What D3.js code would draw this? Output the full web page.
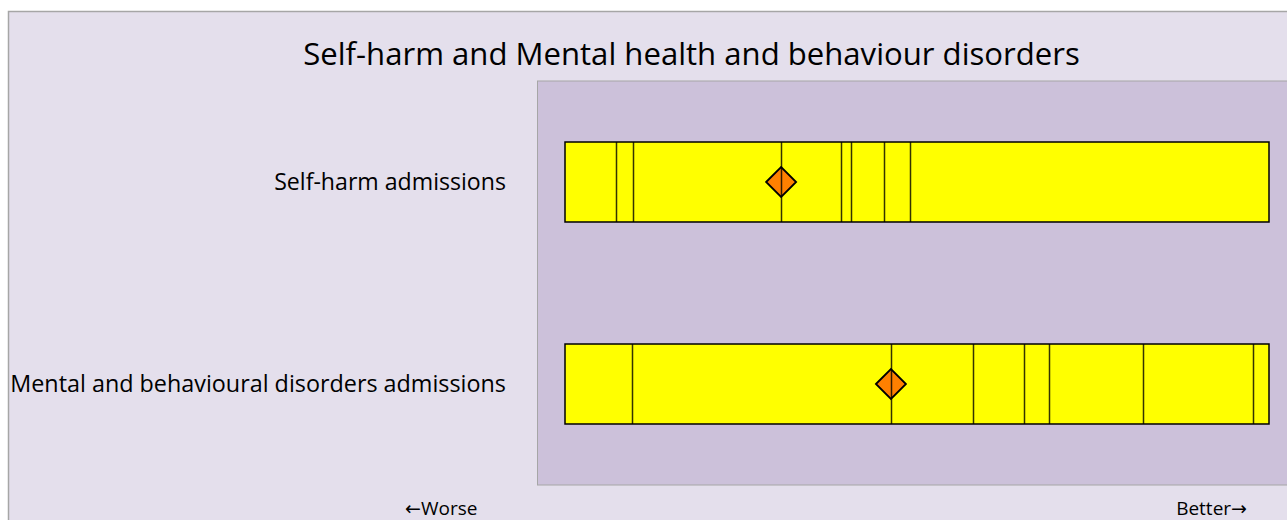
<!DOCTYPE html>
<html>
<head>
<meta charset="utf-8">
<script src="https://cdn.jsdelivr.net/npm/d3@7"></script>
<style>
  body { margin: 0; background: #ffffff; }
  svg { display: block; font-family: "Open Sans", "DejaVu Sans", sans-serif; }
</style>
</head>
<body>
<svg id="chart" width="1287" height="520"></svg>
<script>
// Chart data (x positions on a 0-100 spine scale)
var title = "Self-harm and Mental health and behaviour disorders";
var categories = ["Self-harm admissions", "Mental and behavioural disorders admissions"];
var segmentBreaks = [
  [7.3, 9.6, 30.7, 39.2, 40.6, 45.3, 49.0],
  [9.5, 46.3, 58.0, 65.2, 68.8, 82.1, 97.7]
];
var markerValues = [30.7, 46.3];
var worseLabel = "\u2190Worse";
var betterLabel = "Better\u2192";

var width = 1287, height = 520;
var svg = d3.select("#chart");

// Outer chart area
svg.append("rect")
  .attr("x", 8.5).attr("y", 11.5)
  .attr("width", width + 10).attr("height", height + 10)
  .attr("fill", "#e4dfec")
  .attr("stroke", "#a6a6a6")
  .attr("stroke-width", 1.5);

// Plot area
var plot = { left: 537, top: 81, bottom: 485 };
svg.append("rect")
  .attr("x", plot.left + 0.5).attr("y", plot.top)
  .attr("width", width - plot.left + 10).attr("height", plot.bottom - plot.top)
  .attr("fill", "#ccc1da")
  .attr("stroke", "#a6a6a6")
  .attr("stroke-width", 1);

var x = d3.scaleLinear().domain([0, 100]).range([565, 1269]);
var y = d3.scaleBand()
  .domain(categories)
  .range([plot.top, plot.bottom])
  .paddingInner(0.604)
  .paddingOuter(0.302);

// Fit a text element to a target width by adjusting its font size
function fitText(sel, target) {
  var w = sel.node().getComputedTextLength();
  var fs = parseFloat(sel.attr("font-size"));
  sel.attr("font-size", fs * target / w);
}

var bars = svg.selectAll("g.bar")
  .data(categories)
  .enter().append("g")
  .attr("class", "bar");

bars.append("rect")
  .attr("x", x(0))
  .attr("y", function (d) { return y(d); })
  .attr("width", x(100) - x(0))
  .attr("height", y.bandwidth())
  .attr("fill", "#ffff00")
  .attr("stroke", "#000")
  .attr("stroke-width", 1.5);

// Markers (diamonds)
bars.append("path")
  .attr("d", function (d, i) {
    var cx = x(markerValues[i]), cy = y(d) + y.bandwidth() / 2, r = 15;
    return "M" + (cx - r) + "," + cy + "L" + cx + "," + (cy - r) +
      "L" + (cx + r) + "," + cy + "L" + cx + "," + (cy + r) + "Z";
  })
  .attr("fill", "#ff8000")
  .attr("stroke", "#000")
  .attr("stroke-width", 1.8);

// Segment divider lines
bars.each(function (d, i) {
  d3.select(this).selectAll("line")
    .data(segmentBreaks[i])
    .enter().append("line")
    .attr("x1", function (v) { return Math.round(x(v)) + 0.5; })
    .attr("x2", function (v) { return Math.round(x(v)) + 0.5; })
    .attr("y1", y(d))
    .attr("y2", y(d) + y.bandwidth())
    .attr("stroke", "#000")
    .attr("stroke-opacity", 0.8)
    .attr("stroke-width", 1.5);
});

// Category labels
bars.append("text")
  .attr("x", 506)
  .attr("y", function (d) { return y(d) + y.bandwidth() / 2; })
  .attr("dy", "0.35em")
  .attr("text-anchor", "end")
  .attr("font-size", 20)
  .attr("fill", "#000")
  .text(function (d) { return d; })
  .each(function (d, i) { fitText(d3.select(this), i === 0 ? 232 : 496); });

// Title
svg.append("text")
  .attr("x", 691.5).attr("y", 65)
  .attr("text-anchor", "middle")
  .attr("font-size", 26)
  .attr("fill", "#000")
  .text(title)
  .call(fitText, 777);

// Direction labels
svg.append("text")
  .attr("x", 405).attr("y", 515)
  .attr("font-size", 19)
  .attr("fill", "#000")
  .text(worseLabel);

svg.append("text")
  .attr("x", 1247).attr("y", 515)
  .attr("text-anchor", "end")
  .attr("font-size", 19)
  .attr("fill", "#000")
  .text(betterLabel);
</script>
</body>
</html>
